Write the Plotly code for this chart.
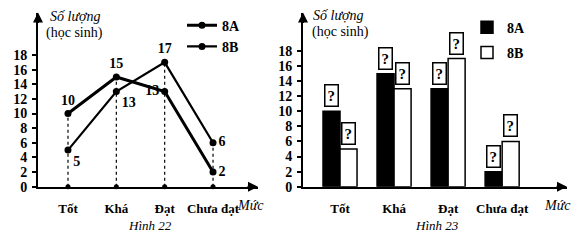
import plotly.graph_objects as go

categories = ["Tốt", "Khá", "Đạt", "Chưa đạt"]
class_8a = [10, 15, 13, 2]
class_8b = [5, 13, 17, 6]
y_ticks = [0, 2, 4, 6, 8, 10, 12, 14, 16, 18]
series_names = ["8A", "8B"]

FONT = "Liberation Serif"
idx = list(range(len(categories)))

fig = go.Figure()

# ---------- Left: line chart (Hình 22) ----------
for i, (a, b) in enumerate(zip(class_8a, class_8b)):
    fig.add_trace(go.Scatter(x=[i, i], y=[0, max(a, b)], mode="lines",
                             line=dict(color="black", width=1.2, dash="dot"),
                             showlegend=False, hoverinfo="skip", xaxis="x", yaxis="y"))
fig.add_trace(go.Scatter(x=idx, y=[0] * len(idx), mode="markers",
                         marker=dict(color="black", size=5), showlegend=False,
                         xaxis="x", yaxis="y", cliponaxis=False))

val_font = dict(family=FONT, size=14, color="black", weight="bold")
fig.add_trace(go.Scatter(x=idx, y=class_8a, mode="lines+markers+text", name=series_names[0],
                         line=dict(color="black", width=3), marker=dict(color="black", size=7),
                         text=[str(v) for v in class_8a],
                         textposition=["top center", "top center", "middle left", "middle right"],
                         textfont=val_font, xaxis="x", yaxis="y", legend="legend", cliponaxis=False))
fig.add_trace(go.Scatter(x=idx, y=class_8b, mode="lines+markers+text", name=series_names[1],
                         line=dict(color="black", width=2.2), marker=dict(color="black", size=7),
                         text=[str(v) for v in class_8b],
                         textposition=["bottom right", "bottom right", "top center", "middle right"],
                         textfont=val_font, xaxis="x", yaxis="y", legend="legend", cliponaxis=False))

# ---------- Right: bar chart (Hình 23) ----------
fig.add_trace(go.Bar(x=idx, y=class_8a, name=series_names[0],
                     marker=dict(color="black", line=dict(color="black", width=1.5)),
                     xaxis="x2", yaxis="y2", legend="legend2", legendgroup="a"))
fig.add_trace(go.Bar(x=idx, y=class_8b, name=series_names[1],
                     marker=dict(color="white", line=dict(color="black", width=1.5)),
                     xaxis="x2", yaxis="y2", legend="legend2", legendgroup="b"))

annotations = []
bar_off = 0.1575
for i, (a, b) in enumerate(zip(class_8a, class_8b)):
    for off, v in ((-bar_off, a), (bar_off, b)):
        annotations.append(dict(x=i + off, y=v, xref="x2", yref="y2", text="<b>?</b>", showarrow=False,
                                xanchor="center", yanchor="bottom", yshift=4,
                                font=dict(family=FONT, size=15, color="black"),
                                bordercolor="black", borderwidth=1.5, borderpad=2, bgcolor="white"))

for xr, yr in (("x", "y"), ("x2", "y2")):
    annotations.append(dict(x=1, y=0, xref=f"{xr} domain", yref=yr, text="", showarrow=True,
                            ax=-12, ay=0, arrowhead=2, arrowsize=1, arrowwidth=2, arrowcolor="black"))
    annotations.append(dict(x=0, y=1, xref=f"{xr} domain", yref=f"{yr} domain", text="", showarrow=True,
                            ax=0, ay=12, arrowhead=2, arrowsize=1, arrowwidth=2, arrowcolor="black"))

label_font = dict(family=FONT, size=14, color="black")
cap_font = dict(family=FONT, size=13, color="black")
texts = [
    (75, 17, "<i>Số lượng</i>", label_font), (74, 34, "(học sinh)", label_font),
    (338, 16, "<i>Số lượng</i>", label_font), (340, 33, "(học sinh)", label_font),
    (250, 212, "<i>Mức</i>", label_font), (557, 212, "<i>Mức</i>", label_font),
    (150, 233, "<i>Hình 22</i>", cap_font), (437, 233, "<i>Hình 23</i>", cap_font),
]
for px, py, t, f in texts:
    annotations.append(dict(x=px / 576, y=1 - py / 245, xref="paper", yref="paper", text=t,
                            showarrow=False, xanchor="center", yanchor="middle", font=f))

ydom = [52 / 245, 232 / 245]
tick_font = dict(family=FONT, size=14, color="black", weight="bold")
cat_font = dict(family=FONT, size=13, color="black", weight="bold")
common_x = dict(showline=True, linewidth=2, linecolor="black", showgrid=False, zeroline=False,
                tickvals=idx, ticktext=categories, ticks="", tickfont=cat_font, ticklabelstandoff=9)
common_y = dict(showline=True, linewidth=2, linecolor="black", showgrid=False, zeroline=False,
                tickvals=y_ticks, ticks="outside", ticklen=4, tickwidth=1.5, tickcolor="black",
                tickfont=tick_font, ticklabelstandoff=2)

fig.update_layout(
    width=576, height=245, margin=dict(l=0, r=0, t=0, b=0),
    paper_bgcolor="white", plot_bgcolor="white",
    font=dict(family=FONT, color="black"),
    barmode="group", bargap=0.37, bargroupgap=0,
    xaxis=dict(domain=[38 / 576, 258 / 576], range=[-0.62, 3.93], anchor="y", **common_x),
    yaxis=dict(domain=ydom, range=[0, 23.8], anchor="x", **common_y),
    xaxis2=dict(domain=[303 / 576, 567 / 576], range=[-0.685, 4.2], anchor="y2", **common_x),
    yaxis2=dict(domain=ydom, range=[0, 23.1], anchor="x2", **common_y),
    legend=dict(x=182 / 576, y=1 - 10 / 245, xanchor="left", yanchor="top", bgcolor="rgba(0,0,0,0)",
                font=dict(family=FONT, size=14, color="black", weight="bold"), borderwidth=0),
    legend2=dict(x=467 / 576, y=1 - 12 / 245, xanchor="left", yanchor="top", bgcolor="rgba(0,0,0,0)",
                 font=dict(family=FONT, size=14, color="black", weight="bold"), tracegroupgap=4, borderwidth=0),
    annotations=annotations,
)

fig.write_html("out.html")
